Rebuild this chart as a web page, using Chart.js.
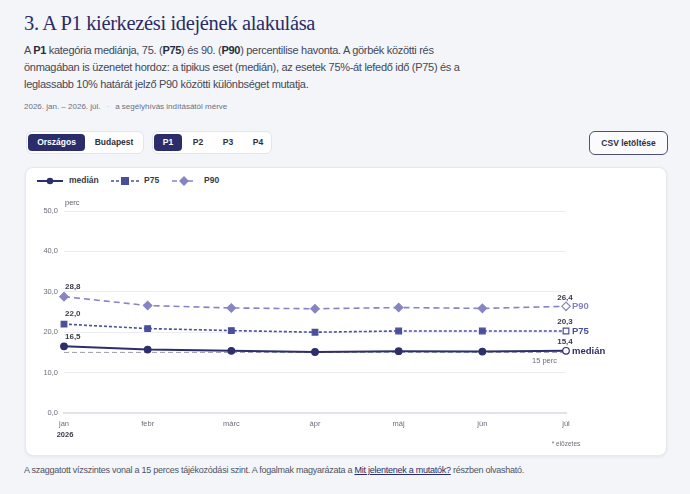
<!DOCTYPE html>
<html lang="hu">
<head>
<meta charset="utf-8">
<script src="https://cdn.jsdelivr.net/npm/chart.js@4.4.1/dist/chart.umd.min.js"></script>
<style>
  html,body{margin:0;padding:0;}
  body{width:690px;height:494px;background:#f3f5f9;position:relative;overflow:hidden;font-family:"Liberation Sans",Arial,sans-serif;color:#3a3d4a;}
  .abs{position:absolute;}
  h1{position:absolute;left:24px;top:12px;margin:0;font-family:"Liberation Serif",serif;font-weight:normal;font-size:20.5px;color:#2a2c68;letter-spacing:-0.35px;white-space:nowrap;}
  .desc{left:24px;top:42px;font-size:11px;line-height:17px;color:#454856;letter-spacing:-0.3px;white-space:nowrap;}
  .desc b{color:#2a2c3a;}
  .meta{left:24px;top:101.5px;font-size:8px;color:#6d7080;white-space:nowrap;}
  .meta .dot{color:#b0b3c0;margin:0 6px;}
  .grp{top:131px;height:23px;background:#fff;border:1px solid #e3e5ec;border-radius:6px;box-sizing:border-box;}
  .btn{position:absolute;top:2px;height:17px;line-height:17px;font-size:8.5px;font-weight:bold;color:#2e3040;text-align:center;border-radius:4px;}
  .btn.on{background:#2b2d6b;color:#fff;}
  .csv{left:589px;top:131px;width:79px;height:24px;border:1px solid #4d5078;border-radius:6px;box-sizing:border-box;background:#fbfbfd;font-size:8.5px;font-weight:bold;color:#2e3040;text-align:center;line-height:22px;}
  .card{left:25px;top:167px;width:642px;height:289px;background:#fff;border-radius:8px;border:1px solid #e6e8ee;box-sizing:border-box;box-shadow:0 1px 3px rgba(30,35,70,0.07);}
  .legend{left:37px;top:174px;height:14px;font-size:8.5px;font-weight:bold;color:#3a3c48;white-space:nowrap;}
  .legend span{position:absolute;top:1px;}
  .legend svg{position:absolute;top:0;}
  .foot{left:24px;top:465px;font-size:9px;color:#505362;white-space:nowrap;letter-spacing:-0.25px;}
  .foot a{color:#2b2d6b;text-decoration:underline;}
  #chartWrap{position:absolute;left:26px;top:192px;width:640px;height:262px;}
</style>
</head>
<body>
<h1>3. A P1 kiérkezési idejének alakulása</h1>
<div class="abs desc">A <b>P1</b> kategória mediánja, 75. (<b>P75</b>) és 90. (<b>P90</b>) percentilise havonta. A görbék közötti rés<br>önmagában is üzenetet hordoz: a tipikus eset (medián), az esetek 75%-át lefedő idő (P75) és a<br>leglassabb 10% határát jelző P90 közötti különbséget mutatja.</div>
<div class="abs meta">2026. jan. – 2026. júl.<span class="dot">·</span>a segélyhívás indításától mérve</div>

<div class="abs grp" style="left:26px;width:118px;">
  <div class="btn on" style="left:1px;width:57px;">Országos</div>
  <div class="btn" style="left:62px;width:50px;">Budapest</div>
</div>
<div class="abs grp" style="left:152px;width:120px;">
  <div class="btn on" style="left:1px;width:28px;">P1</div>
  <div class="btn" style="left:33px;width:24px;">P2</div>
  <div class="btn" style="left:63px;width:24px;">P3</div>
  <div class="btn" style="left:93px;width:24px;">P4</div>
</div>
<div class="abs csv">CSV letöltése</div>

<div class="abs card"></div>
<div class="abs legend">
  <svg width="26" height="14" style="left:0"><line x1="0" y1="7" x2="26" y2="7" stroke="#2d2f6b" stroke-width="2"/><circle cx="13" cy="7" r="3.3" fill="#2d2f6b"/></svg>
  <span style="left:32px">medián</span>
  <svg width="28" height="14" style="left:74px"><line x1="0" y1="7" x2="28" y2="7" stroke="#4a4f9c" stroke-width="1.6" stroke-dasharray="3,2"/><rect x="10" y="3" width="8" height="8" fill="#4a4f9c"/></svg>
  <span style="left:107px">P75</span>
  <svg width="24" height="14" style="left:135px"><line x1="0" y1="7" x2="24" y2="7" stroke="#8784c3" stroke-width="1.6" stroke-dasharray="5,3"/><rect x="8.5" y="3.5" width="7" height="7" fill="#8784c3" transform="rotate(45 12 7)"/></svg>
  <span style="left:167px">P90</span>
</div>
<div id="chartWrap"><canvas id="c"></canvas></div>
<div class="abs foot">A szaggatott vízszintes vonal a 15 perces tájékozódási szint. A fogalmak magyarázata a <a>Mit jelentenek a mutatók?</a> részben olvasható.</div>

<script>
// ---- data ----
const months = ['jan','febr','márc','ápr','máj','jún','júl'];
const yearLabel = '2026';
const medianValues = [16.5, 15.7, 15.4, 15.1, 15.3, 15.2, 15.4];
const p75Values = [22.0, 20.9, 20.4, 20.0, 20.3, 20.3, 20.3];
const p90Values = [28.8, 26.6, 26.0, 25.8, 26.1, 25.9, 26.4];
const referenceLevel = 15;
const yMin = 0, yMax = 50, yStep = 10;
const seriesNames = ['medián', 'P75', 'P90'];

// ---- styles ----
const C_MED = '#2d2f6b', C_P75 = '#4a4f9c', C_P90 = '#8784c3';
const FONT = '"Liberation Sans", Arial, sans-serif';
const fmt = v => v.toFixed(1).replace('.', ',');
const lastIdx = months.length - 1;
const fills = c => months.map((_, i) => i === lastIdx ? '#ffffff' : c);

const endLabels = {
  id: 'endLabels',
  afterDatasetsDraw(chart) {
    const ctx = chart.ctx;
    const area = chart.chartArea;
    ctx.save();
    [0, 1, 2].forEach(di => {
      const meta = chart.getDatasetMeta(di);
      const ds = chart.data.datasets[di];
      const first = meta.data[0], last = meta.data[lastIdx];
      ctx.font = 'bold 8px ' + FONT;
      ctx.fillStyle = '#3a3c48';
      ctx.textBaseline = 'middle';
      ctx.textAlign = 'left';
      ctx.fillText(fmt(ds.data[0]), first.x + 1, first.y - 10);
      ctx.textAlign = 'center';
      ctx.fillText(fmt(ds.data[lastIdx]), last.x - 1, last.y - 9);
      ctx.font = 'bold 9.5px ' + FONT;
      ctx.fillStyle = ds.borderColor;
      ctx.textAlign = 'left';
      ctx.fillText(ds.label, last.x + 6, last.y + 0.5);
    });
    const ys = chart.scales.y;
    ctx.font = '7.5px ' + FONT;
    ctx.fillStyle = '#6b6e7c';
    ctx.textAlign = 'right';
    ctx.fillText(referenceLevel + ' perc', area.right - 9, ys.getPixelForValue(referenceLevel) + 9);
    ctx.textAlign = 'left';
    ctx.fillStyle = '#5a5d6a';
    ctx.fillText('perc', area.left + 1, area.top - 8);
    const xs = chart.scales.x;
    ctx.textAlign = 'center';
    ctx.font = 'bold 7.5px ' + FONT;
    ctx.fillStyle = '#3a3c48';
    ctx.fillText(yearLabel, xs.getPixelForValue(0) + 1, area.bottom + 22);
    ctx.font = '6.5px ' + FONT;
    ctx.fillStyle = '#6b6e7c';
    ctx.fillText('* előzetes', xs.getPixelForValue(lastIdx), area.bottom + 31);
    ctx.restore();
  }
};

new Chart(document.getElementById('c'), {
  type: 'line',
  data: {
    labels: months,
    datasets: [
      { label: seriesNames[0], data: medianValues, borderColor: C_MED, backgroundColor: C_MED,
        borderWidth: 2, pointStyle: 'circle', pointRadius: 3.3, pointBorderWidth: 1.2,
        pointBackgroundColor: fills(C_MED), pointBorderColor: C_MED, tension: 0, order: 1 },
      { label: seriesNames[1], data: p75Values, borderColor: C_P75, backgroundColor: C_P75,
        borderWidth: 1.6, borderDash: [3, 2], pointStyle: 'rect', pointRadius: 4, pointBorderWidth: 1.2,
        pointBackgroundColor: fills(C_P75), pointBorderColor: C_P75, tension: 0, order: 2 },
      { label: seriesNames[2], data: p90Values, borderColor: C_P90, backgroundColor: C_P90,
        borderWidth: 1.6, borderDash: [6, 4], pointStyle: 'rectRot', pointRadius: 4.2, pointBorderWidth: 1.2,
        pointBackgroundColor: fills(C_P90), pointBorderColor: C_P90, tension: 0, order: 3 },
      { label: 'ref', data: months.map(() => referenceLevel), borderColor: '#9a9cab', borderWidth: 1,
        borderDash: [5, 3], pointRadius: 0, order: 10 }
    ]
  },
  options: {
    responsive: true,
    maintainAspectRatio: false,
    animation: false,
    layout: { padding: { top: 19, right: 100, left: 0, bottom: 0 } },
    plugins: { legend: { display: false }, tooltip: { enabled: false } },
    scales: {
      x: {
        grid: { display: false, drawTicks: false },
        border: { display: true, color: '#e2e3e9', width: 2 },
        ticks: { color: '#6b6e7c', font: { family: FONT, size: 7.5 }, padding: 6, maxRotation: 0 },
        afterFit: s => { s.height = 41; }
      },
      y: {
        min: yMin, max: yMax,
        grid: { color: '#ececf1', drawTicks: false, lineWidth: 1 },
        border: { display: false },
        ticks: { stepSize: yStep, color: '#6b6e7c', font: { family: FONT, size: 7.5 }, padding: 6,
                 callback: v => fmt(v) },
        afterFit: s => { s.width = 38; }
      }
    }
  },
  plugins: [endLabels]
});
</script>
</body>
</html>
